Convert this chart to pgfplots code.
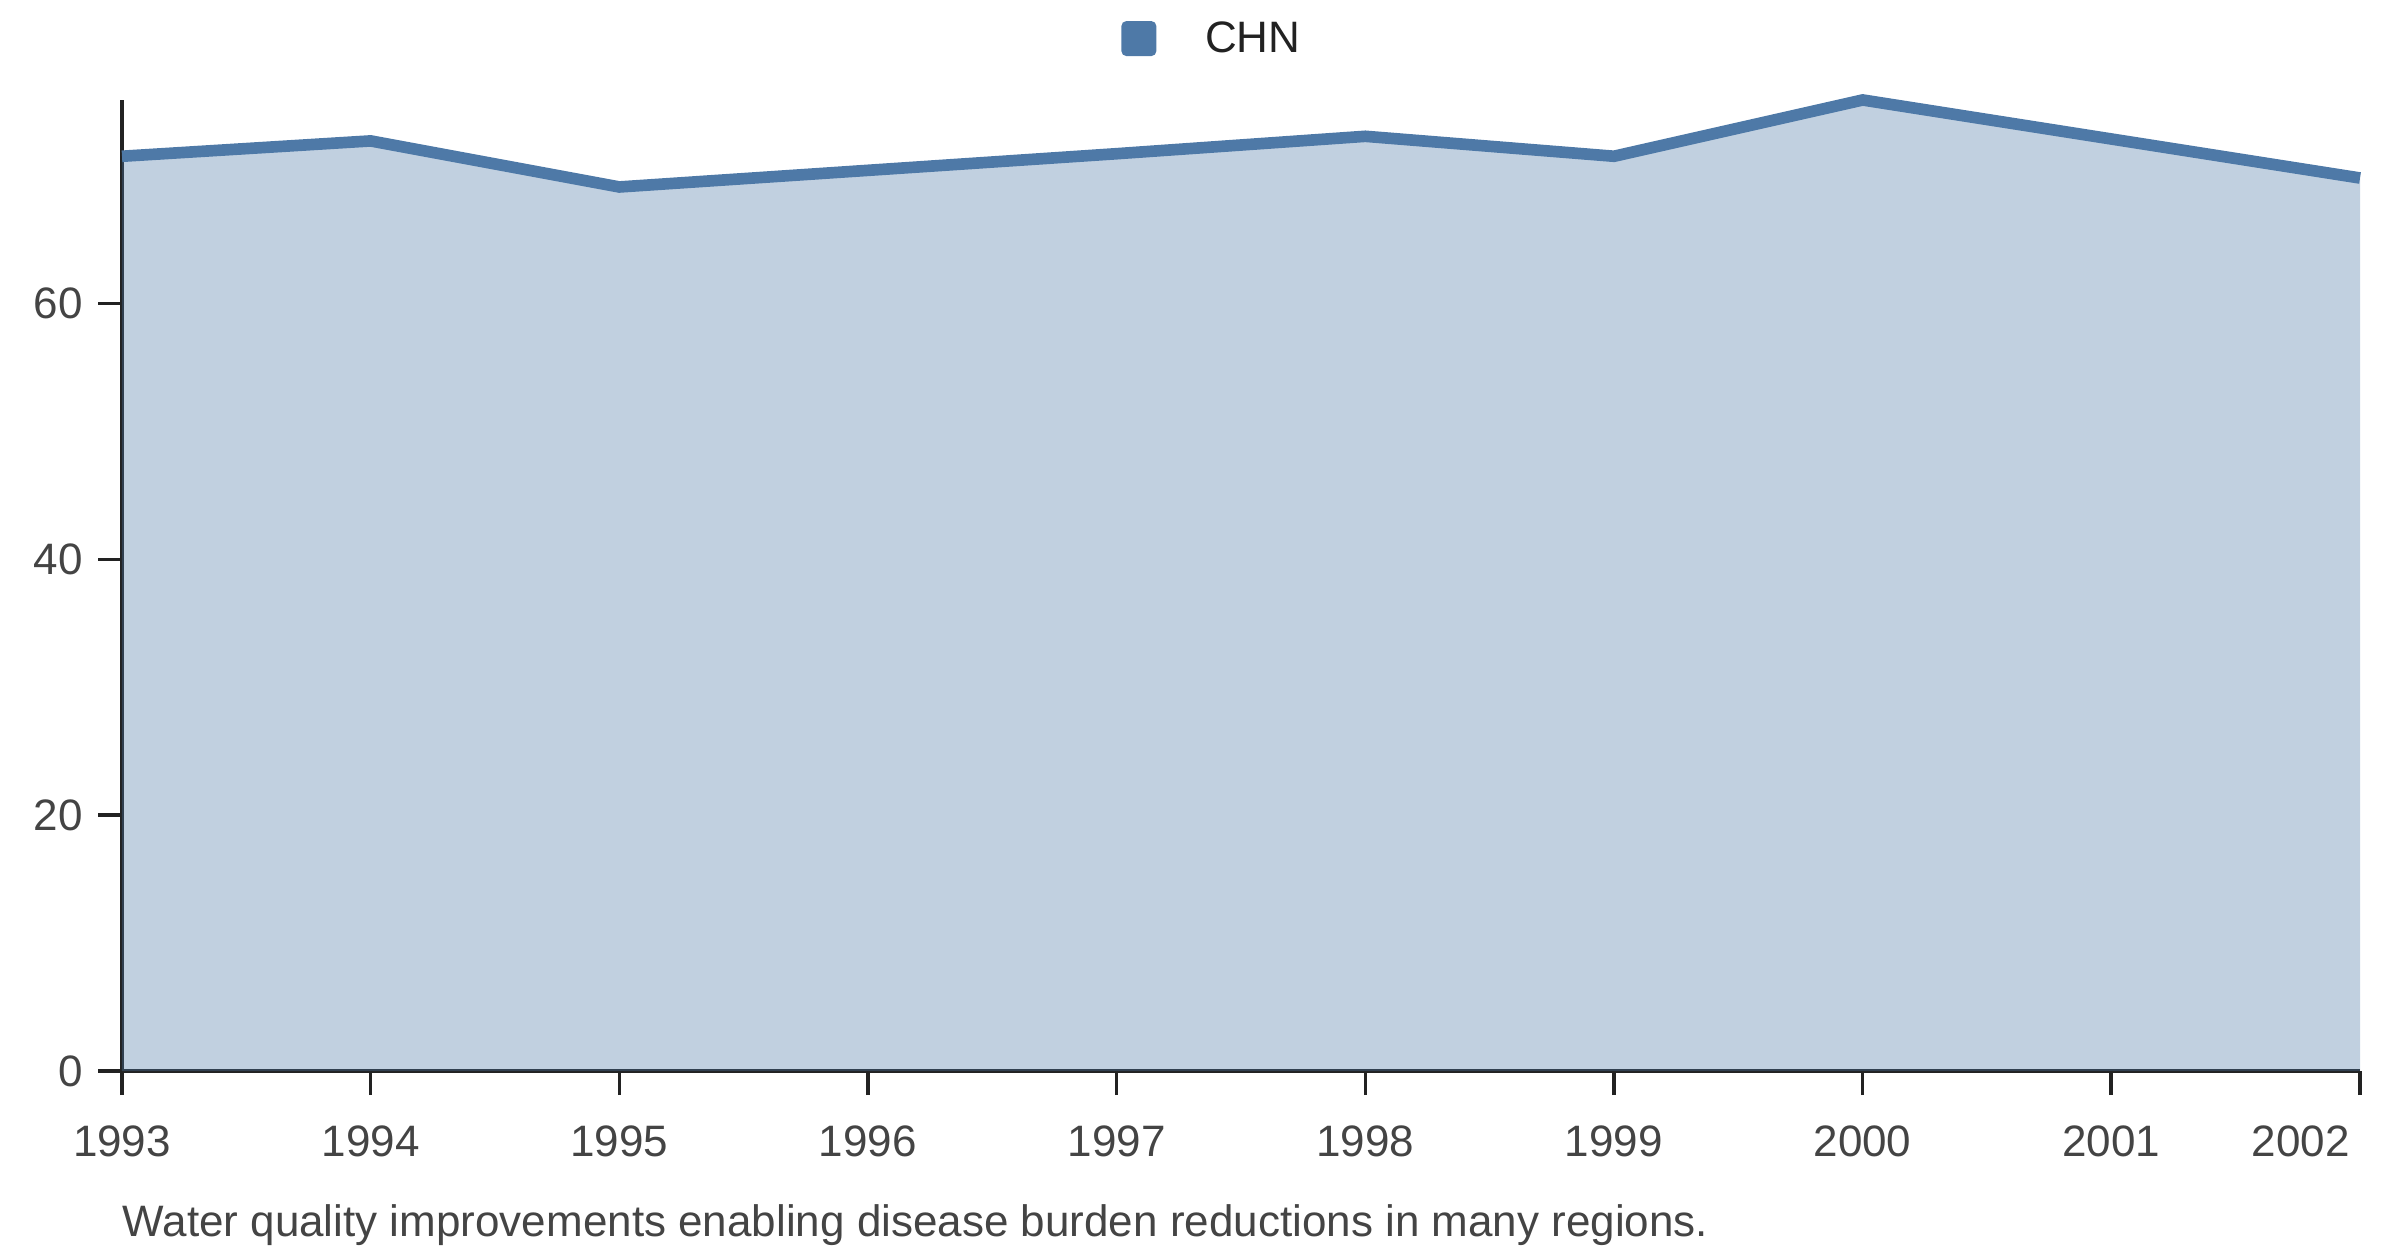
\documentclass[border=0pt]{standalone}
\usepackage{pgfplots}
\pgfplotsset{compat=1.18}
\usepackage{fontspec}
\setmainfont{Liberation Sans}
\definecolor{cblue}{HTML}{4E79A7}
\definecolor{tickgray}{HTML}{444444}
\definecolor{axisdark}{HTML}{222222}
\begin{document}
\fontsize{13.2bp}{15.8bp}\selectfont
\begin{tikzpicture}
\path[use as bounding box] (-36.6bp,-55.5bp) rectangle (683.4bp,321.3bp);
\begin{axis}[
  at={(0,0)}, anchor=south west,
  scale only axis,
  width=671.4bp, height=291.3bp,
  xmin=1993, xmax=2002, ymin=0, ymax=75.9,
  clip=false,
  axis lines=left,
  axis line style={axisdark, line width=1bp, -},
  xtick={1993,...,2001},
  extra x ticks={2002},
  extra x tick style={xticklabel style={anchor=north east, xshift=1.5bp}},
  ytick={0,20,40,60},
  tick align=outside,
  major tick length=7.2bp,
  tick style={axisdark, line width=1bp},
  /pgf/number format/assume math mode=true,
  /pgf/number format/1000 sep={},
  ticklabel style={font=\fontsize{13.2bp}{15.8bp}\selectfont, text=tickgray},
  xticklabel style={yshift=-4.6bp},
  legend style={at={(0.4880,1.0610)}, anchor=center, draw=none, fill=none,
    font=\fontsize{13.2bp}{15.8bp}\selectfont, text=axisdark, inner sep=0pt,
    /tikz/every odd column/.append style={column sep=12.6bp}},
  legend image code/.code={\path[fill=cblue, draw=none, rounded corners=1.5bp] (0bp,-4.6bp) rectangle (10.5bp,5.9bp);},
  legend cell align=left,
]
\addplot[draw=none, fill=cblue, fill opacity=0.35, forget plot] coordinates {
  (1993,71.5) (1994,72.7) (1995,69.1) (1996,70.4) (1997,71.7) (1998,73.06)
  (1999,71.5) (2000,75.9) (2001,72.85) (2002,69.8)
} \closedcycle;
\addplot[cblue, line width=3.5bp, line join=miter] coordinates {
  (1993,71.5) (1994,72.7) (1995,69.1) (1996,70.4) (1997,71.7) (1998,73.06)
  (1999,71.5) (2000,75.9) (2001,72.85) (2002,69.8)
};
\addlegendentry{CHN}
\node[anchor=base west, inner sep=0pt, text=tickgray] at ([yshift=-49.5bp]rel axis cs:0,0) {Water quality improvements enabling disease burden reductions in many regions.};
\end{axis}
\end{tikzpicture}
\end{document}
